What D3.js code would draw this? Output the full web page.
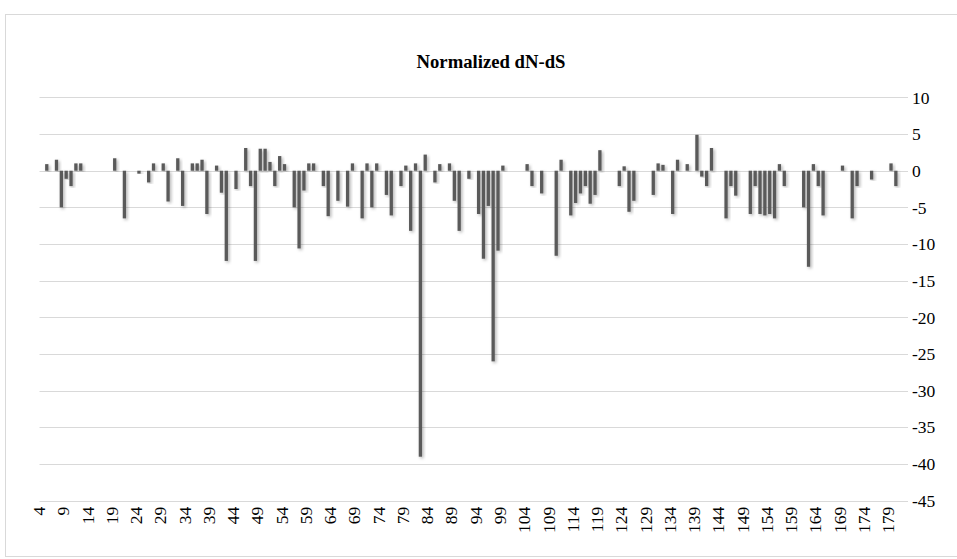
<!DOCTYPE html>
<html lang="en">
<head>
<meta charset="UTF-8">
<title>Normalized dN-dS</title>
<script src="https://d3js.org/d3.v7.min.js"></script>
<style>
    body {
        margin: 0;
        background: #fff;
    }
    svg text {
        font-family: "Liberation Serif", "DejaVu Serif", serif;
        fill: #000;
    }
</style>
</head>
<body>
<script>
    // codon positions shown on the category axis
    var firstPos = 4, lastPos = 182;
    var labelEvery = 5;

    // positions that have a bar, and their normalized dN-dS value
    var positions = [5, 7, 8, 9, 10, 11, 12, 19, 21, 24, 26, 27, 29, 30, 32, 33, 35, 36, 37, 38,
        40, 41, 42, 44, 46, 47, 48, 49, 50, 51, 52, 53, 54, 56, 57, 58, 59, 60, 62, 63,
        65, 67, 68, 70, 71, 72, 73, 75, 76, 78, 79, 80, 81, 82, 83, 85, 86, 88, 89, 90,
        92, 94, 95, 96, 97, 98, 99, 104, 105, 107, 110, 111, 113, 114, 115, 116, 117, 118, 119,
        123, 124, 125, 126, 130, 131, 132, 134, 135, 137, 139, 140, 141, 142, 145, 146, 147,
        150, 151, 152, 153, 154, 155, 156, 157, 161, 162, 163, 164, 165, 169, 171, 172, 175, 179, 180];
    var values = [0.9, 1.5, -5.0, -1.1, -2.1, 1.0, 1.0, 1.7, -6.5, -0.4, -1.6, 1.0, 1.0, -4.2, 1.7, -4.8, 1.0, 1.0, 1.5, -5.9,
        0.7, -3.0, -12.3, -2.5, 3.1, -2.1, -12.3, 3.0, 3.0, 1.2, -2.1, 2.0, 0.9, -5.0, -10.6, -2.7, 1.0, 1.0, -2.1, -6.2,
        -4.1, -4.9, 1.0, -6.5, 1.0, -5.0, 1.0, -3.3, -6.1, -2.1, 0.7, -8.2, 1.0, -39.0, 2.2, -1.6, 0.9, 1.0, -4.1, -8.2,
        -1.1, -5.9, -12.0, -4.8, -26.0, -10.9, 0.7, 0.9, -2.1, -3.1, -11.6, 1.5, -6.1, -4.4, -3.1, -2.1, -4.5, -3.3, 2.8,
        -2.1, 0.6, -5.6, -4.1, -3.3, 1.0, 0.8, -5.9, 1.5, 0.9, 4.9, -0.8, -2.1, 3.1, -6.5, -2.1, -3.4,
        -5.9, -2.1, -5.9, -6.1, -5.9, -6.5, 0.9, -2.1, -5.0, -13.1, 0.9, -2.1, -6.1, 0.7, -6.5, -2.1, -1.2, 1.0, -2.1];

    var yTicks = [10, 5, 0, -5, -10, -15, -20, -25, -30, -35, -40, -45];
    var title = "Normalized dN-dS";

    var W = 957, H = 559;
    var plot = {left: 39.5, right: 908, top: 97.4, bottom: 500.7};
    var serif = "'Liberation Serif', 'DejaVu Serif', serif";

    var categories = d3.range(firstPos, lastPos + 1);
    var bars = positions.map(function (p, i) {
        return {pos: p, value: values[i]};
    });

    var svg = d3.select("body")
        .append("svg")
        .attr("width", W)
        .attr("height", H)
        .style("font-family", serif);

    // soft shadow under the bars
    var filter = svg.append("defs").append("filter")
        .attr("id", "shadow")
        .attr("x", "-100%").attr("y", "-10%")
        .attr("width", "300%").attr("height", "120%");
    filter.append("feDropShadow")
        .attr("dx", 1.5).attr("dy", 1.5)
        .attr("stdDeviation", 1.8)
        .attr("flood-color", "#000")
        .attr("flood-opacity", 0.3);

    // chart border
    svg.append("rect")
        .attr("x", 5.5).attr("y", 14.5)
        .attr("width", 970).attr("height", 542)
        .attr("fill", "#fff")
        .attr("stroke", "#d9d9d9");

    var x = d3.scaleBand()
        .domain(categories)
        .range([plot.left, plot.right])
        .paddingInner(0.32)
        .paddingOuter(0.16);
    var y = d3.scaleLinear()
        .domain([10, -45])
        .range([plot.top, plot.bottom]);

    svg.append("text")
        .attr("x", 491)
        .attr("y", 68)
        .attr("text-anchor", "middle")
        .style("font-family", serif)
        .style("font-size", "18.7px")
        .style("font-weight", "bold")
        .text(title);

    // gridlines
    svg.append("g")
        .selectAll("line")
        .data(yTicks)
        .enter().append("line")
        .attr("x1", plot.left).attr("x2", plot.right)
        .attr("y1", function (d) { return Math.round(y(d)) + 0.5; })
        .attr("y2", function (d) { return Math.round(y(d)) + 0.5; })
        .attr("stroke", "#d9d9d9")
        .attr("stroke-width", 1);

    // value labels on the right
    svg.append("g")
        .selectAll("text")
        .data(yTicks)
        .enter().append("text")
        .attr("x", plot.right + 4)
        .attr("y", function (d) { return y(d); })
        .attr("dy", "0.35em")
        .style("font-family", serif)
        .style("font-size", "17.5px")
        .text(function (d) { return d; });

    svg.append("g")
        .selectAll(".bar")
        .data(bars)
        .enter().append("rect")
        .attr("class", "bar")
        .attr("x", function (d) { return x(d.pos); })
        .attr("width", x.bandwidth())
        .attr("y", function (d) { return y(Math.max(0, d.value)); })
        .attr("height", function (d) { return Math.abs(y(d.value) - y(0)); })
        .attr("fill", "#5a5a5a")
        .attr("filter", "url(#shadow)");

    // category axis
    var xAxis = svg.append("g")
        .attr("transform", "translate(0," + (plot.bottom + 6) + ")")
        .call(d3.axisBottom(x)
            .tickValues(categories.filter(function (d, i) { return i % labelEvery === 0; }))
            .tickSize(0)
            .tickPadding(0));
    xAxis.attr("font-family", null).attr("font-size", null);
    xAxis.select(".domain").remove();
    xAxis.selectAll("text")
        .style("font-size", "17.5px")
        .style("font-family", serif)
        .attr("fill", "#000")
        .attr("text-anchor", "end")
        .attr("transform", "rotate(-90)")
        .attr("x", 0)
        .attr("y", -3)
        .attr("dy", "0.35em");
</script>
</body>
</html>
